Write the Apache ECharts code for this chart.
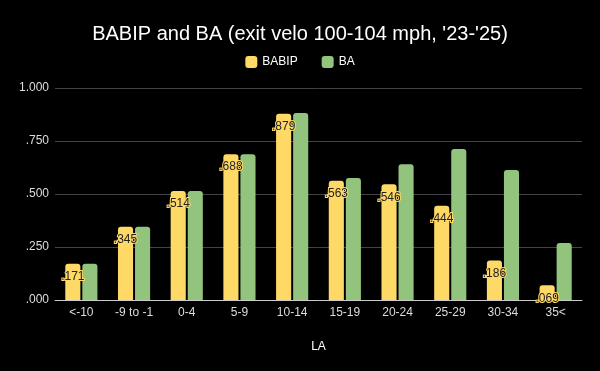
<!DOCTYPE html>
<html>
<head>
<meta charset="utf-8">
<style>html,body{margin:0;padding:0;background:#000;}#c{width:600px;height:371px;}</style>
<script src="https://cdn.jsdelivr.net/npm/echarts@6/dist/echarts.min.js"></script>
</head>
<body>
<div id="c"></div>
<script>
const categories = ['<-10', '-9 to -1', '0-4', '5-9', '10-14', '15-19', '20-24', '25-29', '30-34', '35<'];
const babip = [0.171, 0.345, 0.514, 0.688, 0.879, 0.563, 0.546, 0.444, 0.186, 0.069];
const ba = [0.171, 0.345, 0.514, 0.688, 0.882, 0.575, 0.640, 0.712, 0.613, 0.269];
const yTicks = [0, 0.25, 0.5, 0.75, 1];

const fmt = v => v.toFixed(3).replace(/^0/, '');
const FONT = 'Liberation Sans, Arial, sans-serif';

const chart = echarts.init(document.getElementById('c'), null, {renderer: 'canvas'});
chart.setOption({
  backgroundColor: '#000000',
  animation: false,
  textStyle: {fontFamily: FONT},
  title: {
    text: "BABIP and BA (exit velo 100-104 mph, '23-'25)",
    left: 'center',
    top: 19,
    textStyle: {color: '#ffffff', fontSize: 20, fontWeight: 'normal', fontFamily: FONT}
  },
  legend: {
    top: 51,
    left: 'center',
    itemWidth: 12,
    itemHeight: 12,
    itemGap: 24,
    icon: 'roundRect',
    textStyle: {color: '#ffffff', fontSize: 12, fontFamily: FONT},
    data: ['BABIP', 'BA']
  },
  grid: {left: 55, right: 18, top: 88, bottom: 71, containLabel: false},
  xAxis: {
    type: 'category',
    data: categories,
    name: 'LA',
    nameLocation: 'middle',
    nameGap: 41,
    nameTextStyle: {color: '#ffffff', fontSize: 12, fontFamily: FONT},
    axisLine: {lineStyle: {color: '#cccccc', width: 1}},
    axisTick: {show: false},
    axisLabel: {color: '#dddddd', fontSize: 12, margin: 7, fontFamily: FONT, interval: 0}
  },
  yAxis: {
    type: 'value',
    min: yTicks[0],
    max: yTicks[yTicks.length - 1],
    interval: 0.25,
    axisLine: {show: false},
    axisTick: {show: false},
    splitLine: {lineStyle: {color: '#444444', width: 1}},
    axisLabel: {color: '#dddddd', fontSize: 12, margin: 6, fontFamily: FONT, formatter: v => fmt(v)}
  },
  series: [
    {
      name: 'BABIP',
      type: 'bar',
      data: babip,
      barGap: '13%',
      barCategoryGap: '39%',
      itemStyle: {color: '#ffd966', borderRadius: [3, 3, 0, 0]},
      label: {
        show: true,
        position: 'insideTop',
        distance: 7,
        color: '#222222',
        fontSize: 12,
        fontFamily: FONT,
        textBorderColor: '#ffd966',
        textBorderWidth: 2,
        formatter: p => fmt(p.value)
      }
    },
    {
      name: 'BA',
      type: 'bar',
      data: ba,
      itemStyle: {color: '#93c47d', borderRadius: [3, 3, 0, 0]}
    }
  ]
});
</script>
</body>
</html>
